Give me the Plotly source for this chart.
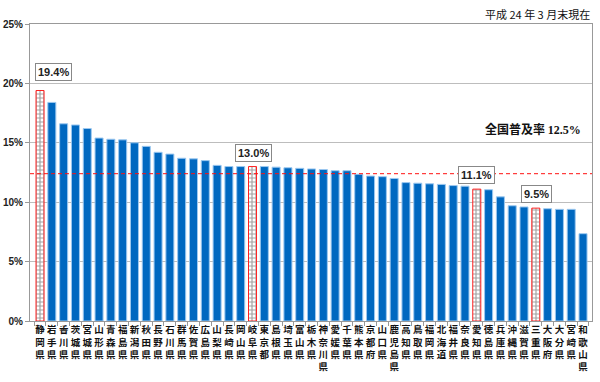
import plotly.graph_objects as go

prefectures = ["静岡県", "岩手県", "香川県", "茨城県", "宮城県", "山形県", "青森県", "福島県", "新潟県", "秋田県",
               "長野県", "石川県", "群馬県", "佐賀県", "広島県", "山梨県", "長崎県", "岡山県", "岐阜県", "東京都",
               "島根県", "埼玉県", "富山県", "栃木県", "神奈川県", "愛媛県", "千葉県", "熊本県", "京都府", "山口県",
               "鹿児島県", "高知県", "鳥取県", "福岡県", "北海道", "福井県", "奈良県", "愛知県", "徳島県", "兵庫県",
               "沖縄県", "滋賀県", "三重県", "大阪府", "大分県", "宮崎県", "和歌山県"]
rates = [19.4, 18.4, 16.6, 16.5, 16.2, 15.4, 15.3, 15.25, 15.0, 14.7,
         14.2, 14.05, 13.7, 13.65, 13.5, 13.1, 13.0, 13.0, 13.0, 13.0,
         12.95, 12.9, 12.85, 12.8, 12.75, 12.65, 12.65, 12.35, 12.2, 12.15,
         12.0, 11.65, 11.6, 11.55, 11.5, 11.4, 11.35, 11.1, 11.05, 10.45,
         9.7, 9.6, 9.5, 9.45, 9.4, 9.4, 7.35]
highlighted = ["静岡県", "岐阜県", "愛知県", "三重県"]
highlight_labels = ["19.4%", "13.0%", "11.1%", "9.5%"]
national_rate = 12.4
national_label = "全国普及率 <span style='font-family:Liberation Serif'>12.5%</span>"
y_ticks = [0, 5, 10, 15, 20, 25]
y_ticktext = ["0%", "5%", "10%", "15%", "20%", "25%"]
title_text = "平成 24 年 3 月末現在"

BLUE = "#0068C0"
RED = "#FF2020"

colors = ["white" if p in highlighted else BLUE for p in prefectures]
line_colors = [RED if p in highlighted else "#9CC8F0" for p in prefectures]
shapes_pat = ["+" if p in highlighted else "" for p in prefectures]

fig = go.Figure()
fig.add_trace(go.Bar(
    x=prefectures, y=rates, width=0.68,
    marker=dict(color=colors, line=dict(color=line_colors, width=1),
                pattern=dict(shape=shapes_pat, fgcolor=RED, bgcolor="white", size=4, solidity=0.5)),
    hoverinfo="x+y",
))

fig.add_shape(type="line", xref="paper", x0=0, x1=1, yref="y", y0=national_rate, y1=national_rate,
              line=dict(color="#FF1010", width=1, dash="4px,3px"), layer="above")

shifts = {"静岡県": (13, 19), "岐阜県": (1, 13.5), "愛知県": (0, 14), "三重県": (1, 14.5)}
for p, lab in zip(highlighted, highlight_labels):
    v = rates[prefectures.index(p)]
    xs, ys = shifts[p]
    fig.add_annotation(x=p, y=v, text="<b>" + lab + "</b>", showarrow=False, xshift=xs, yshift=ys,
                       yanchor="middle", font=dict(family="Liberation Sans", size=11, color="#222"),
                       bordercolor="#888", borderwidth=1, bgcolor="white", borderpad=2)

fig.add_annotation(x=41.8, y=16.2, xref="x", yref="y", text="<b>" + national_label + "</b>", showarrow=False,
                   font=dict(family="Noto Sans CJK JP", size=12, color="#111"))
fig.add_annotation(x=1, xref="paper", xanchor="right", y=(382 - 14 - 61) / (382 - 24 - 61), yref="paper",
                   yanchor="middle", text=title_text,
                   showarrow=False, font=dict(family="Noto Sans CJK JP", size=11, color="#111"))

fig.update_layout(
    width=600, height=382, margin=dict(l=30, r=8, t=24, b=61),
    plot_bgcolor="white", paper_bgcolor="white", showlegend=False, bargap=0.32,
    font=dict(family="Noto Sans CJK JP"),
)
fig.update_xaxes(
    type="category", range=[-0.85, 46.76], automargin=False,
    tickvals=prefectures, ticktext=["<br>".join(list(p)) for p in prefectures],
    tickangle=0, tickfont=dict(family="Noto Sans CJK JP", size=9.5, color="#111", weight="bold"),
    showline=True, linecolor="#999", linewidth=1, mirror=True,
    ticks="outside", tickson="boundaries", ticklen=4, tickcolor="#999",
)
fig.update_yaxes(
    range=[0, 25], tickvals=y_ticks, ticktext=["<b>" + t + "</b>" for t in y_ticktext], automargin=False,
    tickfont=dict(family="Liberation Sans", size=10, color="#222"),
    showgrid=True, gridcolor="#BDBDBD", gridwidth=1,
    showline=True, linecolor="#999", linewidth=1, mirror=True,
    ticks="outside", ticklen=4, tickcolor="#999", zeroline=False,
)
fig.write_html("out.html", config={"displayModeBar": False},
               post_script="document.body.style.margin='0';")
